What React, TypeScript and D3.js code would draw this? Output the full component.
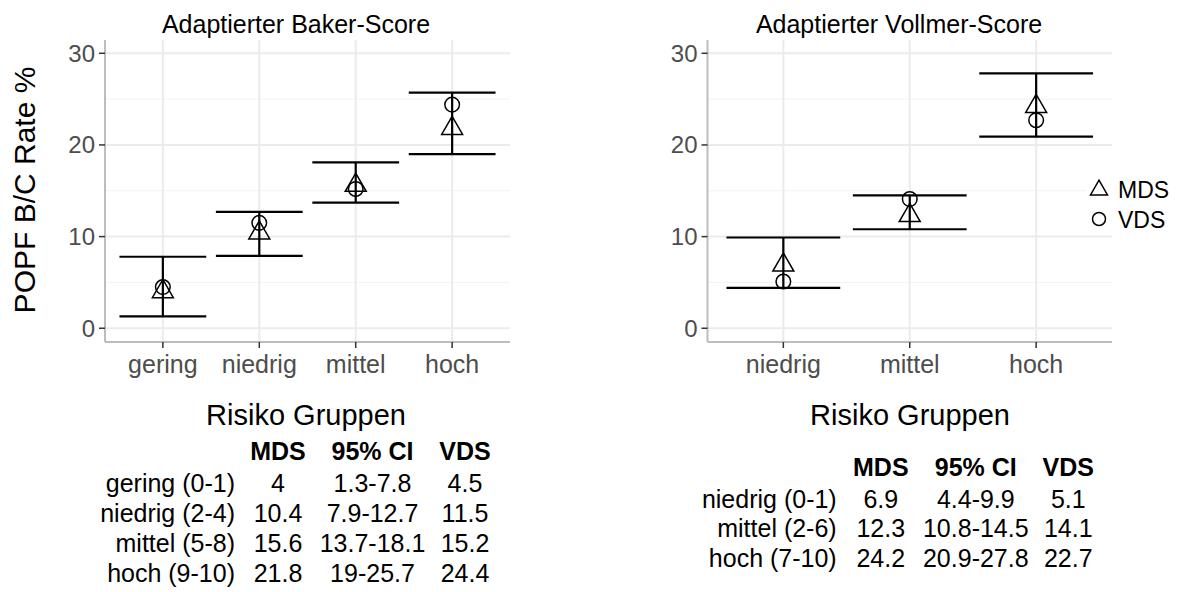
import React from "react";
import * as d3 from "d3";

// Adaptierter Baker-Score
const bakerGroups = ["gering", "niedrig", "mittel", "hoch"];
const bakerMDS = [4, 10.4, 15.6, 21.8];
const bakerVDS = [4.5, 11.5, 15.2, 24.4];
const bakerLow = [1.3, 7.9, 13.7, 19];
const bakerHigh = [7.8, 12.7, 18.1, 25.7];
const bakerRows = ["gering (0-1)", "niedrig (2-4)", "mittel (5-8)", "hoch (9-10)"];
const bakerCI = ["1.3-7.8", "7.9-12.7", "13.7-18.1", "19-25.7"];

// Adaptierter Vollmer-Score
const vollmerGroups = ["niedrig", "mittel", "hoch"];
const vollmerMDS = [6.9, 12.3, 24.2];
const vollmerVDS = [5.1, 14.1, 22.7];
const vollmerLow = [4.4, 10.8, 20.9];
const vollmerHigh = [9.9, 14.5, 27.8];
const vollmerRows = ["niedrig (0-1)", "mittel (2-6)", "hoch (7-10)"];
const vollmerCI = ["4.4-9.9", "10.8-14.5", "20.9-27.8"];

const yTicks = [0, 10, 20, 30];
const yMinor = [5, 15, 25];
const tableHead = ["MDS", "95% CI", "VDS"];

const FONT = "'Liberation Sans', Arial, sans-serif";
const TOP = 40;
const BOTTOM = 342;

const y = d3.scaleLinear().domain([-1.5, 31.45]).range([BOTTOM, TOP]);

const triPath = (size: number) => d3.symbol(d3.symbolTriangle, size)() as string;

type PanelProps = {
  title: string;
  titleX: number;
  left: number;
  right: number;
  groups: string[];
  mds: number[];
  vds: number[];
  low: number[];
  high: number[];
};

const Panel = ({ title, titleX, left, right, groups, mds, vds, low, high }: PanelProps) => {
  const x = d3.scalePoint<string>().domain(groups).range([left, right]).padding(0.6);
  const half = x.step() * 0.45;
  return (
    <g>
      <text x={titleX} y={33} fontSize={25} textAnchor="middle" fill="#000">
        {title}
      </text>
      {/* grid */}
      {yMinor.map((t) => (
        <line key={"m" + t} x1={left} x2={right} y1={y(t)} y2={y(t)} stroke="#f2f2f2" strokeWidth={1} />
      ))}
      {yTicks.map((t) => (
        <line key={"g" + t} x1={left} x2={right} y1={y(t)} y2={y(t)} stroke="#ebebeb" strokeWidth={2} />
      ))}
      {groups.map((g) => (
        <line key={"v" + g} x1={x(g)} x2={x(g)} y1={TOP} y2={BOTTOM} stroke="#ebebeb" strokeWidth={2} />
      ))}
      {/* axes */}
      <line x1={left} x2={left} y1={TOP} y2={BOTTOM} stroke="#bdbdbd" strokeWidth={2} />
      <line x1={left} x2={right} y1={BOTTOM} y2={BOTTOM} stroke="#bdbdbd" strokeWidth={2} />
      {yTicks.map((t) => (
        <g key={"yt" + t}>
          <line x1={left - 6} x2={left} y1={y(t)} y2={y(t)} stroke="#333" strokeWidth={1.5} />
          <text x={left - 10} y={y(t) + 8.5} fontSize={24} textAnchor="end" fill="#4d4d4d">
            {t}
          </text>
        </g>
      ))}
      {groups.map((g) => (
        <g key={"xt" + g}>
          <line x1={x(g)} x2={x(g)} y1={BOTTOM} y2={BOTTOM + 6} stroke="#333" strokeWidth={1.5} />
          <text x={x(g)} y={373} fontSize={25} textAnchor="middle" fill="#4d4d4d">
            {g}
          </text>
        </g>
      ))}
      {/* error bars */}
      {groups.map((g, i) => {
        const cx = x(g) as number;
        return (
          <g key={"e" + g} stroke="#000" strokeWidth={2.2} fill="none">
            <line x1={cx - half} x2={cx + half} y1={y(high[i])} y2={y(high[i])} />
            <line x1={cx - half} x2={cx + half} y1={y(low[i])} y2={y(low[i])} />
            <line x1={cx} x2={cx} y1={y(high[i])} y2={y(low[i])} />
          </g>
        );
      })}
      {/* points */}
      {groups.map((g, i) => (
        <path
          key={"t" + g}
          d={triPath(190)}
          transform={`translate(${x(g)},${y(mds[i])})`}
          fill="none"
          stroke="#000"
          strokeWidth={1.5}
        />
      ))}
      {groups.map((g, i) => (
        <circle key={"c" + g} cx={x(g)} cy={y(vds[i])} r={7.3} fill="none" stroke="#000" strokeWidth={1.5} />
      ))}
    </g>
  );
};

type TableProps = {
  titleX: number;
  titleY: number;
  headY: number;
  rowY: number;
  rowStep: number;
  labelX: number;
  cols: number[];
  rows: string[];
  mds: number[];
  ci: string[];
  vds: number[];
};

const Table = ({ titleX, titleY, headY, rowY, rowStep, labelX, cols, rows, mds, ci, vds }: TableProps) => (
  <g fill="#000">
    <text x={titleX} y={titleY} fontSize={29} textAnchor="middle">
      Risiko Gruppen
    </text>
    {tableHead.map((h, j) => (
      <text key={h} x={cols[j]} y={headY} fontSize={25} fontWeight="bold" textAnchor="middle">
        {h}
      </text>
    ))}
    {rows.map((r, i) => (
      <g key={r}>
        <text x={labelX} y={rowY + i * rowStep} fontSize={25} textAnchor="end">
          {r}
        </text>
        <text x={cols[0]} y={rowY + i * rowStep} fontSize={25} textAnchor="middle">
          {mds[i]}
        </text>
        <text x={cols[1]} y={rowY + i * rowStep} fontSize={25} textAnchor="middle">
          {ci[i]}
        </text>
        <text x={cols[2]} y={rowY + i * rowStep} fontSize={25} textAnchor="middle">
          {vds[i]}
        </text>
      </g>
    ))}
  </g>
);

export default function App() {
  return (
    <svg
      width={1184}
      height={592}
      style={{ position: "absolute", left: 0, top: 0, background: "#fff" }}
      fontFamily={FONT}
    >
      <rect width={1184} height={592} fill="#fff" />
      <text transform="translate(35,190) rotate(-90)" fontSize={30} textAnchor="middle" fill="#000">
        POPF B/C Rate %
      </text>
      <Panel
        title="Adaptierter Baker-Score"
        titleX={296}
        left={105}
        right={510}
        groups={bakerGroups}
        mds={bakerMDS}
        vds={bakerVDS}
        low={bakerLow}
        high={bakerHigh}
      />
      <Panel
        title="Adaptierter Vollmer-Score"
        titleX={899}
        left={707.5}
        right={1112}
        groups={vollmerGroups}
        mds={vollmerMDS}
        vds={vollmerVDS}
        low={vollmerLow}
        high={vollmerHigh}
      />
      {/* legend */}
      <g>
        <rect x={1086} y={172} width={98} height={62} fill="#fff" />
        <path d={triPath(125)} transform="translate(1099,190)" fill="none" stroke="#000" strokeWidth={1.5} />
        <circle cx={1099} cy={219} r={6.5} fill="none" stroke="#000" strokeWidth={1.5} />
        <text x={1118} y={198} fontSize={23} fill="#000">
          MDS
        </text>
        <text x={1118} y={228} fontSize={23} fill="#000">
          VDS
        </text>
      </g>
      <Table
        titleX={306}
        titleY={425}
        headY={460}
        rowY={492}
        rowStep={30}
        labelX={235}
        cols={[278, 372.5, 465]}
        rows={bakerRows}
        mds={bakerMDS}
        ci={bakerCI}
        vds={bakerVDS}
      />
      <Table
        titleX={910}
        titleY={425}
        headY={476}
        rowY={508}
        rowStep={29.3}
        labelX={836.7}
        cols={[880.8, 975.8, 1068.3]}
        rows={vollmerRows}
        mds={vollmerMDS}
        ci={vollmerCI}
        vds={vollmerVDS}
      />
    </svg>
  );
}
